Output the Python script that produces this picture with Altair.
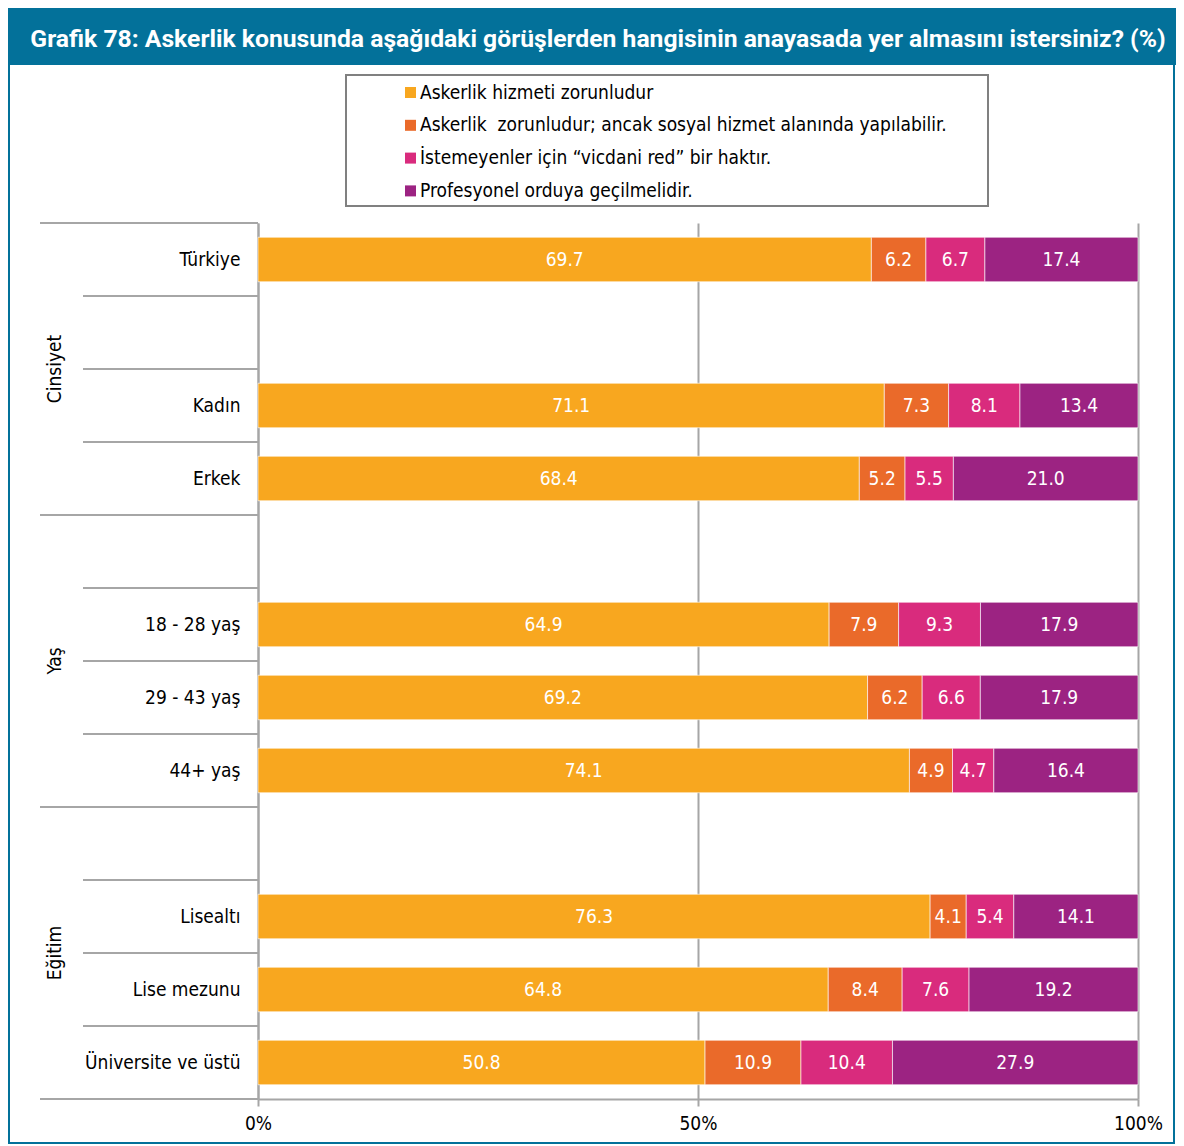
import altair as alt
import pandas as pd

# ---- data ----
rows = ["Türkiye", "_1", "Kadın", "Erkek", "_2", "18 - 28 yaş", "29 - 43 yaş", "44+ yaş",
        "_3", "Lisealtı", "Lise mezunu", "Üniversite ve üstü"]
categories = ["Türkiye", "Kadın", "Erkek", "18 - 28 yaş", "29 - 43 yaş", "44+ yaş",
              "Lisealtı", "Lise mezunu", "Üniversite ve üstü"]
series = ["Askerlik hizmeti zorunludur",
          "Askerlik \u00a0zorunludur; ancak sosyal hizmet alanında yapılabilir.",
          "İstemeyenler için “vicdani red” bir haktır.",
          "Profesyonel orduya geçilmelidir."]
zorunlu = [69.7, 71.1, 68.4, 64.9, 69.2, 74.1, 76.3, 64.8, 50.8]
sosyal = [6.2, 7.3, 5.2, 7.9, 6.2, 4.9, 4.1, 8.4, 10.9]
vicdani = [6.7, 8.1, 5.5, 9.3, 6.6, 4.7, 5.4, 7.6, 10.4]
profesyonel = [17.4, 13.4, 21.0, 17.9, 17.9, 16.4, 14.1, 19.2, 27.9]
groups = ["Cinsiyet", "Yaş", "Eğitim"]
group_centers = [2, 6, 10]
major_bounds = [0, 4, 8, 12]
minor_bounds = [1, 2, 3, 5, 6, 7, 9, 10, 11]
title_text = "Grafik 78: Askerlik konusunda aşağıdaki görüşlerden hangisinin anayasada yer almasını istersiniz? (%)"

colors = ["#F8A71F", "#EA6A2A", "#D92B7D", "#9C2382"]
FONT = "DejaVu Sans Condensed, DejaVu Sans"
GREY = "#a6a6a6"
BLUE = "#03719A"

recs = []
for s_idx, vals in enumerate([zorunlu, sosyal, vicdani, profesyonel]):
    for c, v in zip(categories, vals):
        recs.append({"category": c, "series": series[s_idx], "k": s_idx, "value": v})
df = pd.DataFrame(recs)

yscale = alt.Scale(domain=rows, paddingInner=0.39, paddingOuter=0.195)
xscale = alt.Scale(domain=[0, 1], nice=False)
qscale = alt.Scale(domain=[0, 12], reverse=True, nice=False, zero=False)

one = pd.DataFrame({"a": [0]})

frame = alt.Chart(one).mark_rect(filled=False, stroke=BLUE, strokeWidth=2).encode(
    x=alt.value(-249), x2=alt.value(916), y=alt.value(-214), y2=alt.value(920))
title_bar = alt.Chart(one).mark_rect(color=BLUE).encode(
    x=alt.value(-250), x2=alt.value(918), y=alt.value(-215), y2=alt.value(-158))
title = alt.Chart(one).mark_text(color="white", font="Roboto", fontWeight="bold", fontSize=24.7,
                                 align="center", baseline="middle").encode(
    x=alt.value(340), y=alt.value(-183), text=alt.value(title_text))
legend_box = alt.Chart(one).mark_rect(filled=False, stroke="#808080", strokeWidth=2).encode(
    x=alt.value(88), x2=alt.value(730), y=alt.value(-148), y2=alt.value(-17))

major = alt.Chart(pd.DataFrame({"b": major_bounds})).mark_rule(color=GREY, strokeWidth=2).encode(
    y=alt.Y("b:Q", scale=qscale, axis=None), x=alt.value(-218), x2=alt.value(0))
minor = alt.Chart(pd.DataFrame({"b": minor_bounds})).mark_rule(color=GREY, strokeWidth=2).encode(
    y=alt.Y("b:Q", scale=qscale, axis=None), x=alt.value(-175), x2=alt.value(0))
grp = alt.Chart(pd.DataFrame({"g": groups, "c": group_centers})).mark_text(
    angle=270, fontSize=19, font=FONT, color="black", align="center", baseline="middle").encode(
    y=alt.Y("c:Q", scale=qscale, axis=None), x=alt.value(-203), text="g:N")

bars = alt.Chart(df).mark_bar(stroke="white", strokeWidth=1, strokeOpacity=0.6).encode(
    y=alt.Y("category:N", scale=yscale, title=None,
            axis=alt.Axis(labelExpr="indexof(datum.label, '_') == 0 ? '' : datum.label",
                          ticks=False, domain=True, domainColor=GREY, domainWidth=2,
                          labelFontSize=19, labelFont=FONT, labelColor="black",
                          labelPadding=18, labelLimit=400)),
    x=alt.X("value:Q", stack="normalize", scale=xscale, title=None,
            axis=alt.Axis(values=[0, 0.5, 1], format=".0%", grid=True, gridColor=GREY,
                          gridWidth=2, domainColor=GREY, domainWidth=2, tickColor=GREY,
                          tickWidth=2, tickSize=7, labelPadding=8, labelFontSize=19,
                          labelFont=FONT, labelColor="black", labelFlush=False)),
    color=alt.Color("series:N", scale=alt.Scale(domain=series, range=colors),
                    legend=alt.Legend(orient="none", legendX=143, legendY=-140, title=None,
                                      symbolType="square", symbolSize=121, symbolStrokeWidth=0,
                                      labelFontSize=19, labelFont=FONT, labelColor="black",
                                      labelOffset=0, rowPadding=12.8, padding=0, labelLimit=800)),
    order=alt.Order("k:Q"))

labels = alt.Chart(df).transform_joinaggregate(
    total="sum(value)", groupby=["category"]
).transform_window(
    cum="sum(value)", sort=[alt.SortField("k")], groupby=["category"], frame=[None, 0]
).transform_calculate(
    mid="(datum.cum - datum.value / 2) / datum.total"
).mark_text(color="white", fontSize=19, font=FONT, align="center", baseline="middle").encode(
    y=alt.Y("category:N", scale=yscale, axis=None),
    x=alt.X("mid:Q", scale=xscale, title=None),
    text=alt.Text("value:Q", format=".1f"))

chart = alt.layer(frame, title_bar, title, legend_box, major, minor, grp, bars, labels).resolve_scale(
    y="independent"
).properties(
    width=880, height=876,
    autosize=alt.AutoSizeParams(type="none"),
    padding={"left": 250, "top": 215, "right": 38, "bottom": 47},
    background="white"
).configure_view(stroke=None)

chart.save("out.html", embed_options={"renderer": "svg", "actions": False})
